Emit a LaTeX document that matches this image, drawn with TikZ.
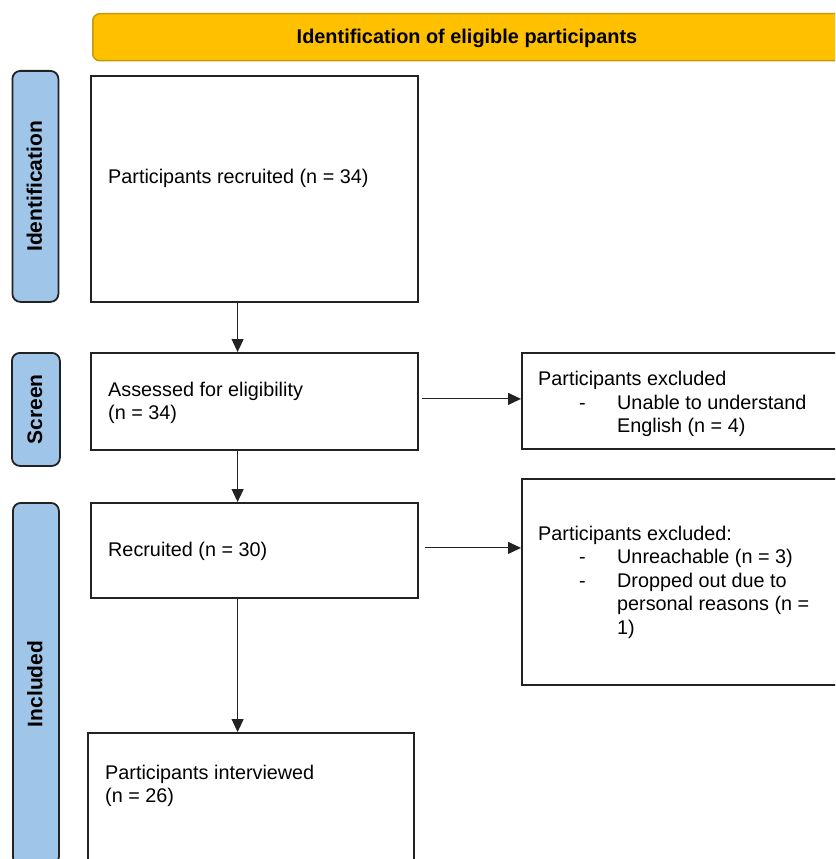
\documentclass[tikz,border=0pt]{standalone}
\usepackage{fontspec}
\setmainfont{Liberation Sans}
\usetikzlibrary{arrows.meta}
\definecolor{bannerfill}{HTML}{FFC000}
\definecolor{bannerline}{HTML}{C49A0A}
\definecolor{barfill}{HTML}{9FC5E8}
\definecolor{edgecol}{HTML}{222222}
\definecolor{arrcol}{HTML}{222222}
\tikzset{
  box/.style={draw=edgecol, line width=1.8pt, fill=white, anchor=north west, inner sep=0pt},
  bar/.style={draw=edgecol, line width=1.8pt, fill=barfill, rounded corners=8pt, anchor=north west, inner sep=0pt},
  banner/.style={draw=bannerline, line width=1.5pt, fill=bannerfill, rounded corners=7pt, inner sep=0pt},
  txt/.style={anchor=west, inner sep=0pt, align=left, font=\fontsize{19.8}{23.5}\selectfont},
  bartxt/.style={rotate=90, inner sep=0pt, font=\fontsize{21}{24}\selectfont\bfseries},
  arr/.style={draw=arrcol, line width=1pt, -{Triangle[length=13pt,width=12pt]}}
}
\begin{document}
\begin{tikzpicture}[x=1pt,y=-1pt]
\useasboundingbox (0,0) rectangle (835,859);
\clip (0,0) rectangle (835,859);
% banner
\node[banner, anchor=north west, minimum width=752pt, minimum height=47pt] (ban) at (92,13) {};
\node[inner sep=0pt, font=\fontsize{19.9}{23.5}\selectfont\bfseries] (bantxt) at (467,38.5) {Identification of eligible participants};
% side bars
\node[bar, minimum width=46pt, minimum height=231pt] (bid) at (11.5,70) {};
\node[bartxt] (bidt) at ([xshift=-1pt]bid.center) {Identification};
\node[bar, minimum width=48pt, minimum height=113pt] (bsc) at (11,352) {};
\node[bartxt] (bsct) at ([xshift=-1pt]bsc.center) {Screen};
\node[bar, minimum width=46pt, minimum height=362pt] (bin) at (12,502) {};
\node[bartxt] (bint) at ([xshift=-1pt]bin.center) {Included};
% boxes
\node[box, minimum width=327pt, minimum height=226pt] (b1) at (90,75) {};
\node[box, minimum width=327pt, minimum height=97pt] (b2) at (90,352) {};
\node[box, minimum width=330pt, minimum height=96pt] (b3) at (521,352) {};
\node[box, minimum width=327pt, minimum height=95pt] (b4) at (90,502) {};
\node[box, minimum width=330pt, minimum height=206pt] (b5) at (521,478) {};
\node[box, minimum width=326pt, minimum height=160pt] (b6) at (87,732) {};
% texts
\node[txt] (t1) at (108,178.5) {Participants recruited (n = 34)};
\node[txt] (t2) at (108,403) {Assessed for eligibility\\(n = 34)};
\node[txt] (t3) at (538,404) {Participants excluded\\\hspace*{41pt}\makebox[38pt][l]{-}Unable to understand\\\hspace*{79pt}English (n = 4)};
\node[txt] (t4) at (108,551.5) {Recruited (n = 30)};
\node[txt] (t5) at (538,582) {Participants excluded:\\\hspace*{41pt}\makebox[38pt][l]{-}Unreachable (n = 3)\\\hspace*{41pt}\makebox[38pt][l]{-}Dropped out due to\\\hspace*{79pt}personal reasons (n =\\\hspace*{79pt}1)};
\node[txt] (t6) at (105,786) {Participants interviewed\\(n = 26)};
% connectors
\coordinate (a1s) at ([xshift=-16.8pt]b1.south);
\draw[arr] (a1s) -- (a1s |- b2.north);
\coordinate (a2s) at ([xshift=-16.8pt]b2.south);
\draw[arr] (a2s) -- (a2s |- b4.north);
\coordinate (a3s) at ([xshift=-16.8pt]b4.south);
\draw[arr] (a3s) -- (a3s |- b6.north);
\coordinate (h1s) at ([xshift=3pt,yshift=2.5pt]b2.east);
\draw[arr] (h1s) -- (h1s -| b3.west);
\coordinate (h2s) at ([xshift=6pt,yshift=2.5pt]b4.east);
\draw[arr] (h2s) -- (h2s -| b5.west);
\end{tikzpicture}
\end{document}
